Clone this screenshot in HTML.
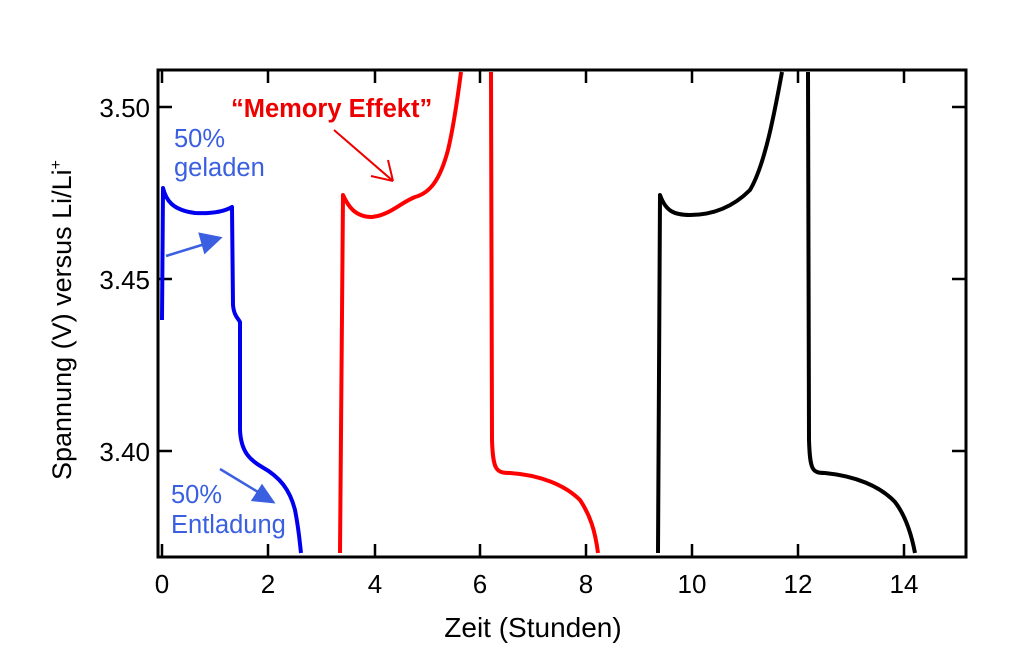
<!DOCTYPE html>
<html><head><style>body{margin:0;background:#fff}svg{display:block}</style></head><body>
<svg width="1024" height="672" xmlns="http://www.w3.org/2000/svg" font-family="Liberation Sans, Arial, sans-serif">
<rect width="1024" height="672" fill="#fff"/>
<rect x="158" y="70" width="808" height="487" fill="none" stroke="#000" stroke-width="3"/>
<g stroke="#000" stroke-width="2.5">
<path d="M162 557v-13M268 557v-13M375 557v-13M480 557v-13M586 557v-13M692 557v-13M798 557v-13M904 557v-13"/>
<path d="M162 70v13M268 70v13M375 70v13M480 70v13M586 70v13M692 70v13M798 70v13M904 70v13"/>
<path d="M158 107h14M158 279h14M158 451h14M966 107h-14M966 279h-14M966 451h-14"/>
</g>
<g font-size="26" fill="#000" text-anchor="middle">
<text x="162" y="593">0</text><text x="268" y="593">2</text><text x="375" y="593">4</text><text x="480" y="593">6</text><text x="586" y="593">8</text><text x="692" y="593">10</text><text x="798" y="593">12</text><text x="904" y="593">14</text>
</g>
<g font-size="26" fill="#000" text-anchor="end">
<text x="150" y="117">3.50</text><text x="150" y="289">3.45</text><text x="150" y="461">3.40</text>
</g>
<text x="533" y="637" font-size="28" text-anchor="middle">Zeit (Stunden)</text>
<text transform="translate(71,320) rotate(-90)" font-size="27" text-anchor="middle">Spannung (V) versus Li/Li<tspan dy="-10" font-size="16">+</tspan></text>
<g fill="none" stroke-width="4" stroke-linejoin="round">
<path stroke="#0000ee" d="M162 320 L163 188 C166 200 172 210 195 213 C215 214 225 211 232 207 L233 305 C234 316 238 318 240 322 L240 430 C241 452 250 460 262 467 C280 477 290 490 295 510 C299 530 300 545 301 553"/>
<path stroke="#ff0000" d="M340 553 L343 195 C348 206 355 217 372 217 C390 215 400 203 415 197 C430 193 440 180 448 150 C454 125 458 95 461 72 M491 72 L492 440 C493 470 496 473 510 473 C540 475 565 485 580 500 C590 515 595 530 598 553"/>
<path stroke="#000" d="M658 553 L660 195 C666 212 675 215 690 215 C715 215 735 205 750 190 C765 165 775 110 782 72 M808 72 L809 440 C810 470 812 473 825 473 C855 476 880 486 895 502 C905 515 911 532 915 553"/>
</g>
<g font-size="25.5" fill="#3a5fe0">
<text x="174" y="147">50%</text><text x="174" y="176">geladen</text>
<text x="171" y="503">50%</text><text x="171" y="533">Entladung</text>
</g>
<g stroke="#3a5fe0" stroke-width="2.5" fill="#3a5fe0">
<path d="M166 256 L205 244"/><path d="M220 238 L200 234 L205 252 Z"/>
<path d="M220 469 L258 492"/><path d="M273 502 L253 500 L262 486 Z"/>
</g>
<text x="231" y="117" font-size="25.5" font-weight="bold" fill="#ee0000">“Memory Effekt”</text>
<g stroke="#ee0000" stroke-width="2" fill="none"><path d="M334 130 L393 181 M393 181 L371 176 M393 181 L388 160"/></g>
</svg>
</body></html>
